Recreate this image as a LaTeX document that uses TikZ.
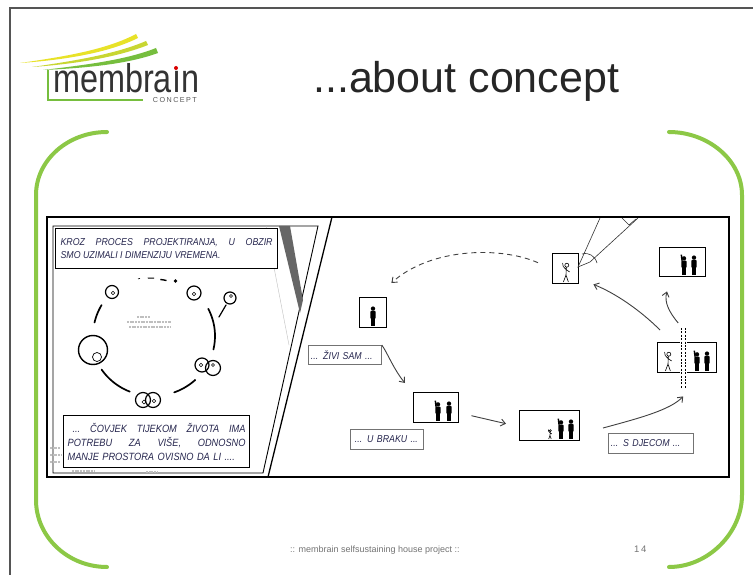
\documentclass[tikz,border=0pt]{standalone}
\usepackage{fontspec}
\usepackage{graphicx}
\setmainfont{Liberation Sans}
\newfontfamily\comicfont[FakeStretch=0.88]{Liberation Sans}
\newfontfamily\logofont[FakeStretch=0.81]{Liberation Sans}
\newfontfamily\spacedfont[LetterSpace=20]{Liberation Sans}
\usetikzlibrary{arrows.meta,calc}

\definecolor{brgreen}{RGB}{140,200,70}
\definecolor{inkblue}{RGB}{38,38,78}
\definecolor{framegray}{RGB}{85,85,85}
\definecolor{swyellow}{RGB}{232,226,40}
\definecolor{swlime}{RGB}{200,214,50}
\definecolor{swgreen}{RGB}{118,190,62}

% a caption line spread to the full caption width (words separated by \hfill)
\newcommand{\fullline}[1]{\makebox[178pt][l]{#1}}

\tikzset{
  caption/.style={draw=black, line width=1.2pt, fill=white, inner xsep=5pt, inner ysep=3pt,
    font=\comicfont\itshape\fontsize{10}{13}\selectfont, text=inkblue, align=justify, anchor=north west},
  tag/.style={draw=black!55, line width=0.8pt, fill=white, inner xsep=2.5pt, inner ysep=0pt,
    font=\comicfont\itshape\fontsize{10}{12}\selectfont, text=inkblue, align=left, anchor=north west},
  room/.style={draw=black, line width=1.4pt, fill=white, inner sep=0pt, anchor=north west},
  arr/.style={-{Straight Barb[length=4.5pt,width=7pt]}, line width=0.9pt, draw=black!75},
  ring/.style={line width=1.2pt},
  stroke/.style={line width=1.7pt, line cap=round},
  brace/.style={draw=brgreen, line width=4pt, line cap=round},
  smudge/.style={draw=black!25, line width=1.4pt, dash pattern=on 2pt off 0.7pt},
  % black standing figure, feet at the origin
  man/.pic={
    \fill (0,-18.3) circle (2.3);
    \fill[rounded corners=0.8pt] (-2.7,-16) rectangle (2.7,-7.5);
    \fill (-2.5,-8) rectangle (-0.4,0);
    \fill (0.4,-8) rectangle (2.5,0);
  },
  % black figure with one raised arm
  manup/.pic={
    \fill (0,-17.5) circle (2.3);
    \fill[rounded corners=0.8pt] (-2.7,-15.2) rectangle (2.7,-7.5);
    \fill (-2.7,-14.5) -- (-3.6,-21.5) -- (-2,-21.5) -- (-1.3,-14.5) -- cycle;
    \fill (-2.5,-8) rectangle (-0.4,0);
    \fill (0.4,-8) rectangle (2.5,0);
  },
  % outlined stick figure waving
  stick/.pic={
    \draw[line width=0.6pt] (0.8,-16.8) circle (2);
    \draw[line width=0.6pt, line join=round]
      (0.3,-14.8) -- (0,-7) -- (-2.6,0) (0,-7) -- (2.4,0)
      (0.1,-12.5) -- (-2.8,-15.5) -- (-3.4,-19) (0.1,-12.5) -- (3.6,-10);
  }
}

\begin{document}
\begin{tikzpicture}[x=1pt,y=-1pt]
\useasboundingbox (0,0) rectangle (753,575);
\fill[white] (0,0) rectangle (753,575);

% slide frame
\draw[framegray, line width=1.6pt] (10,575) -- (10,8) -- (753,8);

% logo swooshes
\fill[swyellow] (20,63) .. controls (62,57) and (106,50) .. (136,34)
  -- (138,38) .. controls (108,53) and (64,60) .. (20,63) -- cycle;
\fill[swlime] (32,67) .. controls (74,61) and (116,54) .. (146,41)
  -- (148,45) .. controls (118,57) and (76,64) .. (32,67) -- cycle;
\fill[swgreen] (43,70) .. controls (85,65) and (126,60) .. (156,48)
  -- (158,53) .. controls (128,64) and (87,68) .. (43,70) -- cycle;
\draw[swgreen, line width=1.6pt] (48,70) -- (48,100) -- (143,100);
\node[anchor=base west, inner sep=0pt, text depth=0pt, text=black!80,
  font=\logofont\fontsize{40}{40}\selectfont] (logo) at (53,93) {membra\i n};
\fill[red!85!black] (176,68) circle (2);
\node[anchor=base east, inner sep=0pt, text=black!65,
  font=\spacedfont\fontsize{7.2}{7.2}\selectfont] (logosub) at (197,102.5) {CONCEPT};

% title
\node[anchor=base west, inner sep=0pt, text=black!85,
  font=\fontsize{43}{43}\selectfont] (title) at (313,93) {...about concept};

% green brackets
\draw[brace] (107,132) .. controls (68,132) and (36,160) .. (36,195)
  -- (36,500) .. controls (36,537) and (68,567) .. (107,567);
\draw[brace] (669,132) .. controls (708,132) and (742,160) .. (742,195)
  -- (742,495) .. controls (742,533) and (708,567) .. (669,567);

% comic frame
\draw[line width=1.4pt] (47,217) rectangle (729,477);
\draw[line width=0.9pt] (53,226) -- (318,226) -- (263,473) -- (53,473) -- cycle;
\draw[line width=1.3pt] (332,217) -- (268,477);

% background sketch in the left panel
\fill[black!60] (279,226) -- (290,226) -- (303,300) -- (300,313) -- cycle;
\draw[black!25, line width=0.4pt] (266,226) -- (289,345);
\draw[smudge] (137,317) -- (150,317);
\draw[smudge] (127,322) -- (171,322);
\draw[smudge] (129,327) -- (170,327);
\draw[smudge] (50,448) -- (60,448) (50,455) -- (61,455) (50,462) -- (60,462);
\draw[smudge] (72,471) -- (94,471) (146,472) -- (158,472);

% captions of the left panel
\node[caption, text width=212pt, minimum height=40pt] (intro) at (55,228)
  {KROZ PROCES PROJEKTIRANJA, U OBZIR\linebreak SMO UZIMALI I DIMENZIJU VREMENA.};
\node[caption, text width=178pt, inner xsep=4pt, minimum height=52pt, align=left,
  font=\comicfont\itshape\fontsize{10.5}{14}\selectfont]
  (outro) at (63,415)
  {\fullline{\hspace*{5pt}...\hfill ČOVJEK\hfill TIJEKOM\hfill ŽIVOTA\hfill IMA}\\
   \fullline{POTREBU\hfill ZA\hfill VIŠE,\hfill ODNOSNO}\\
   MANJE PROSTORA OVISNO DA LI ....};

% life cycle ring
\draw[stroke] plot[domain=193:211, samples=12] ({153+60*cos(\x)},{336+60*sin(\x)});
\draw[stroke] plot[domain=-27:13, samples=16] ({153+62*cos(\x)},{336+60*sin(\x)});
\draw[stroke] plot[domain=112:146, samples=14] ({153+62*cos(\x)},{336+60*sin(\x)});
\draw[stroke] plot[domain=47:70, samples=12] ({153+62*cos(\x)},{336+60*sin(\x)});
\draw[line width=0.6pt] plot[domain=255.5:257.5, samples=3] ({153+60*cos(\x)},{337+60*sin(\x)});
\draw[line width=1pt] plot[domain=265:271, samples=4] ({153+60*cos(\x)},{338+60*sin(\x)});
\draw[line width=1.4pt] plot[domain=277:283, samples=4] ({153+60*cos(\x)},{339+60*sin(\x)});
\fill (175.5,281) circle (1.8);
\draw[line width=1.2pt, line cap=round] (226,305) -- (219,317);

\draw[ring] (112,292) circle (6.5);  \draw[line width=0.5pt] (113,293) circle (1.8);
\draw[ring] (194,293) circle (7);    \draw[line width=0.5pt] (194,294) circle (1.8);
\draw[ring] (230,298) circle (6);    \draw[line width=0.5pt] (231,296) circle (1.6);
\draw[line width=1.4pt] (93,350) circle (14.5); \draw[line width=0.7pt] (97,357) circle (4.5);
\draw[ring] (202,365) circle (7);    \draw[line width=0.5pt] (201,365) circle (1.8);
\draw[ring] (213,368) circle (7.5);  \draw[line width=0.5pt] (213,365) circle (1.6);
\draw[ring] (143,400) circle (7.5);  \draw[line width=0.5pt] (144,402) circle (1.9);
\draw[ring] (153,400) circle (7.5);  \draw[line width=0.5pt] (154,401) circle (1.8);

% right panel: rooms
\node[room, minimum width=27pt, minimum height=30pt] (solo) at (359,297) {};
\node[room, minimum width=45pt, minimum height=30pt] (pair) at (413,392) {};
\node[room, minimum width=60pt, minimum height=30pt] (kids) at (519,410) {};
\node[room, minimum width=59pt, minimum height=30pt] (split) at (657,342) {};
\node[room, minimum width=46pt, minimum height=29pt] (couple) at (659,247) {};
\node[room, minimum width=26pt, minimum height=30pt] (alone) at (552,253) {};

\pic[scale=0.95] at (373,326) {man};
\pic[scale=0.95] at (438,421) {manup};
\pic[scale=0.95] at (449,421) {man};
\pic[scale=0.5] at (550,439) {stick};
\pic[scale=0.95] at (561,439) {manup};
\pic[scale=0.95] at (571,439) {man};
\pic[scale=0.95] at (684,275) {manup};
\pic[scale=0.95] at (694,275) {man};
\pic at (566,282) {stick};
\pic at (668,371) {stick};
\pic[scale=0.95] at (697,371) {manup};
\pic[scale=0.95] at (707,371) {man};

% movable partition in the split room
\fill[white] (680,327) rectangle (687,389);
\draw[line width=0.9pt, dash pattern=on 2pt off 1.4pt] (681.6,328) -- (681.6,388) (685.4,328) -- (685.4,388);

% pencil
\draw[black!80, line width=0.6pt] (600,218) -- (583,256) -- (578,267) -- (590,262) -- (638,218);
\draw[black!80, line width=0.6pt] (582,254) .. controls (589,252) and (595,256) .. (597,263);
\draw[black!80, line width=0.6pt] (622,218) -- (629,225) -- (636,219);

% right panel: tags
\node[tag, text width=68pt, minimum height=19pt] (zivi) at (308,345) {... ŽIVI SAM ...};
\node[tag, text width=68pt, minimum height=20pt] (braku) at (350,429) {\hspace*{2pt}... U BRAKU ...};
\node[tag, text width=80pt, minimum height=20pt] (djecom) at (608,433) {... S DJECOM ...};

% right panel: transitions
\draw[arr, dashed, dash pattern=on 5pt off 4pt]
  ($(alone.west)+(-14,-6)$) .. controls (500,246) and (430,248) .. ($(solo.north east)+(4,-14)$);
\draw[arr] (zivi.north east) .. controls (387,352) and (394,370) .. ($(pair.north west)+(-8,-9)$);
\draw[arr] ($(pair.east)+(12,8)$) -- ($(kids.west)+(-13,-2)$);
\draw[arr] ($(djecom.north west)+(-5,-5)$) .. controls (640,418) and (670,410) .. ($(split.south)+(-4,23)$);
\draw[arr] ($(split.north west)+(3,-12)$) .. controls (640,310) and (615,293) .. ($(alone.south east)+(14,0)$);
\draw[arr] ($(split.north)+(-9,-19)$) .. controls (669,312) and (664,302) .. ($(couple.south west)+(8,14)$);

% footer
\node[anchor=base west, inner sep=0pt, text=black!55, font=\fontsize{9}{9}\selectfont]
  (footer) at (290,552) {:: membrain selfsustaining house project ::};
\node[anchor=base west, inner sep=0pt, text=black!55, font=\fontsize{9.5}{9.5}\selectfont]
  (pageno) at (634,552) {1\,4};
\end{tikzpicture}
\end{document}
